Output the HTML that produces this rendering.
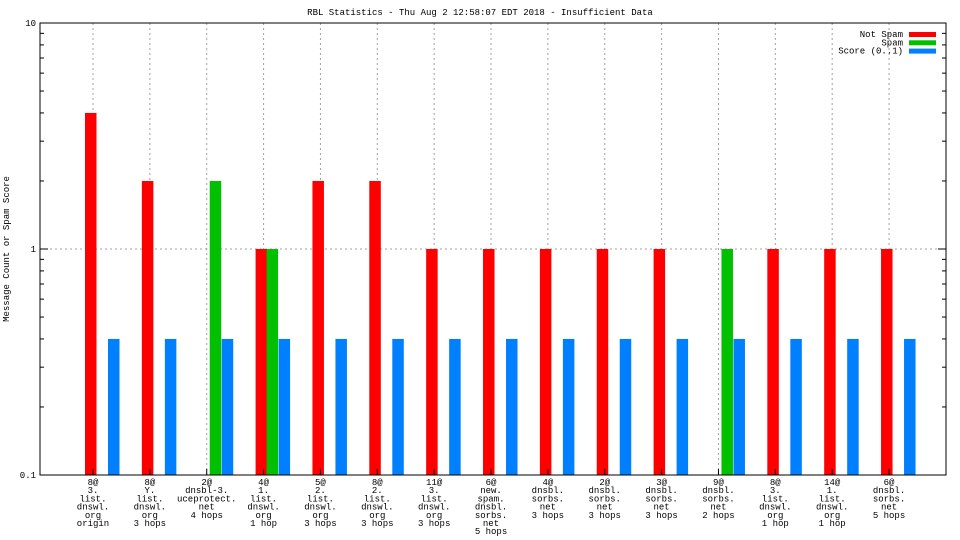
<!DOCTYPE html>
<html><head><meta charset="utf-8"><style>
html,body{margin:0;padding:0;background:#fff}
svg{display:block}
text{font-family:"Liberation Mono",monospace;font-size:9px;fill:#000}
</style></head><body>
<svg id="chart" width="960" height="540" xmlns="http://www.w3.org/2000/svg">
<text x="480" y="15" text-anchor="middle">RBL Statistics - Thu Aug  2 12:58:07 EDT 2018 - Insufficient Data</text>
<text transform="translate(9,249) rotate(-90)" text-anchor="middle">Message Count or Spam Score</text>
<g id="grid"></g><g id="bars"></g><g id="axes"></g><g id="legend"></g>
</svg>
<script>
const categories=[
["8@","3.","list.","dnswl.","org","origin"],
["8@","Y.","list.","dnswl.","org","3 hops"],
["2@","dnsbl-3.","uceprotect.","net","4 hops"],
["4@","1.","list.","dnswl.","org","1 hop"],
["5@","2.","list.","dnswl.","org","3 hops"],
["8@","2.","list.","dnswl.","org","3 hops"],
["11@","3.","list.","dnswl.","org","3 hops"],
["6@","new.","spam.","dnsbl.","sorbs.","net","5 hops"],
["4@","dnsbl.","sorbs.","net","3 hops"],
["2@","dnsbl.","sorbs.","net","3 hops"],
["3@","dnsbl.","sorbs.","net","3 hops"],
["9@","dnsbl.","sorbs.","net","2 hops"],
["8@","3.","list.","dnswl.","org","1 hop"],
["14@","1.","list.","dnswl.","org","1 hop"],
["6@","dnsbl.","sorbs.","net","5 hops"]];
const notSpam=[4,2,0,1,2,2,1,1,1,1,1,0,1,1,1];
const spam=[0,0,2,1,0,0,0,0,0,0,0,1,0,0,0];
const score=[0.4,0.4,0.4,0.4,0.4,0.4,0.4,0.4,0.4,0.4,0.4,0.4,0.4,0.4,0.4];
const yTicks=[0.1,1,10];
const yTickLabels=["0.1","1","10"];
const seriesNames=["Not Spam","Spam","Score (0..1)"];

const NS="http://www.w3.org/2000/svg";
const L=40,R=946,T=23,B=475;
const yMin=0.1,yMax=10;
function y(v){return B-(Math.log10(v)-Math.log10(yMin))/(Math.log10(yMax)-Math.log10(yMin))*(B-T);}
function x(i){return 93+56.86*i;}
function el(tag,attrs,parent){const e=document.createElementNS(NS,tag);for(const k in attrs)e.setAttribute(k,attrs[k]);parent.appendChild(e);return e;}
const grid=document.getElementById('grid'),bars=document.getElementById('bars'),axes=document.getElementById('axes'),legend=document.getElementById('legend');
categories.forEach((c,i)=>{const g=el('line',{x1:x(i),x2:x(i),y1:T,y2:B,stroke:'#a0a0a0','stroke-dasharray':'2,3'},grid);

});
yTicks.forEach((t,i)=>{if(t>yMin&&t<yMax){const g=el('line',{x1:L,x2:R,y1:y(t),y2:y(t),stroke:'#a0a0a0','stroke-dasharray':'2,3'},grid);

}});
const colors=["#ff0000","#00c000","#0080ff"];
const offs=[-8,3,15];
const series=[notSpam,spam,score];
const bw=11.5;
series.forEach((s,si)=>{s.forEach((v,i)=>{if(v<=0)return;const r=el('rect',{x:x(i)+offs[si],y:y(v),width:bw,height:B-y(v),fill:colors[si]},bars);

});});
const fr=el('rect',{x:L,y:T,width:R-L,height:B-T,fill:'none',stroke:'#000'},axes);


yTicks.forEach((t,i)=>{const tx=el('text',{x:L-4,y:y(t)+3,'text-anchor':'end'},axes);tx.textContent=yTickLabels[i];


el('line',{x1:L,x2:L+8,y1:y(t),y2:y(t),stroke:'#000'},axes);el('line',{x1:R,x2:R-8,y1:y(t),y2:y(t),stroke:'#000'},axes);
if(t<yMax){for(let m=2;m<10;m++){const yy=y(t*m);el('line',{x1:L,x2:L+4,y1:yy,y2:yy,stroke:'#000'},axes);el('line',{x1:R,x2:R-4,y1:yy,y2:yy,stroke:'#000'},axes);}}});
categories.forEach((c,i)=>{const tx=el('text',{x:x(i),y:485,'text-anchor':'middle'},axes);


c.forEach((ln,j)=>{const ts=el('tspan',{x:x(i),dy:j?8.2:0},tx);ts.textContent=ln;});
el('line',{x1:x(i),x2:x(i),y1:B,y2:B-6,stroke:'#000'},axes);});
seriesNames.forEach((n,i)=>{const yy=34+i*8.3;const t=el('text',{x:903,y:yy+3,'text-anchor':'end'},legend);t.textContent=n;


const s=el('rect',{x:909,y:yy-2,width:27,height:5,fill:colors[i]},legend);

});
</script>
</body></html>
